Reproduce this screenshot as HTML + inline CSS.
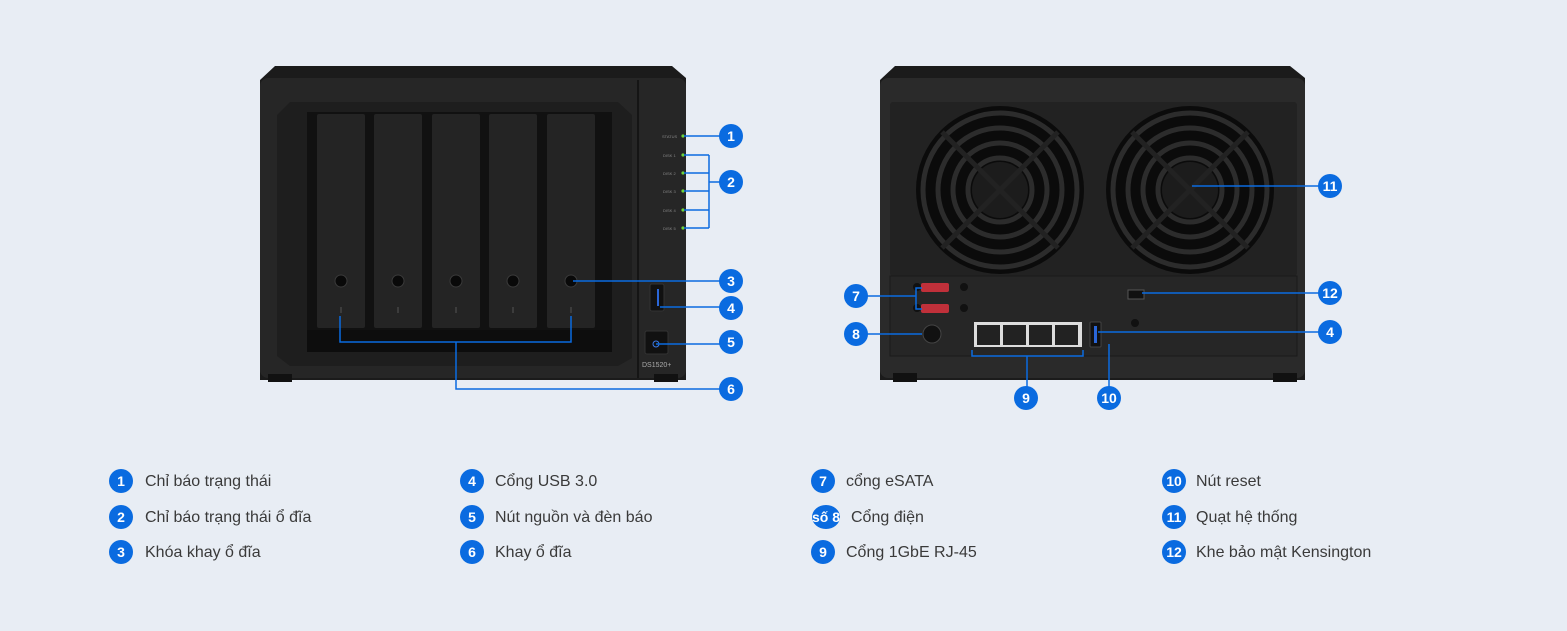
<!DOCTYPE html>
<html><head><meta charset="utf-8"><style>
html,body{margin:0;padding:0;background:#e8edf4;}
svg{display:block}
.lg{font-family:"Liberation Sans","DejaVu Sans",sans-serif;font-size:16px;fill:#3a3a3a}
.bn{font-family:"Liberation Sans",sans-serif;font-size:14px;fill:#fff;font-weight:bold}
.ln{stroke:#0a6be0;stroke-width:1.5;fill:none}
</style></head><body>
<svg width="1567" height="631" viewBox="0 0 1567 631" xmlns="http://www.w3.org/2000/svg">
<rect width="1567" height="631" fill="#e8edf4"/>
<!-- FRONT -->
<path d="M275 66 H672 L686 78 V380 H260 V80 Z" fill="#1b1b1b"/>
<rect x="260" y="78" width="426" height="300" rx="8" fill="#262626"/>
<rect x="268" y="374" width="24" height="8" fill="#111"/>
<rect x="654" y="374" width="24" height="8" fill="#111"/>
<line x1="638" y1="80" x2="638" y2="378" stroke="#151515" stroke-width="2"/>
<path d="M290 102 H618 L632 115 V358 L618 366 H290 L277 356 V115 Z" fill="#1e1e1e"/>
<rect x="307" y="112" width="305" height="240" fill="#111"/>
<rect x="307" y="330" width="305" height="22" fill="#0d0d0d"/>
<g fill="#242424">
<rect x="317" y="114" width="48" height="214" rx="2"/>
<rect x="374" y="114" width="48" height="214" rx="2"/>
<rect x="432" y="114" width="48" height="214" rx="2"/>
<rect x="489" y="114" width="48" height="214" rx="2"/>
<rect x="547" y="114" width="48" height="214" rx="2"/>
</g>
<g fill="#090909" stroke="#3a3a3a" stroke-width="1">
<circle cx="341" cy="281" r="6"/><circle cx="398" cy="281" r="6"/><circle cx="456" cy="281" r="6"/><circle cx="513" cy="281" r="6"/><circle cx="571" cy="281" r="6"/>
</g>
<g stroke="#555" stroke-width="1">
<line x1="341" y1="307" x2="341" y2="313"/><line x1="398" y1="307" x2="398" y2="313"/><line x1="456" y1="307" x2="456" y2="313"/><line x1="513" y1="307" x2="513" y2="313"/><line x1="571" y1="307" x2="571" y2="313"/>
</g>
<g font-family="Liberation Sans,sans-serif" font-size="4" fill="#888">
<text x="662" y="138">STATUS</text><text x="663" y="157">DISK 1</text><text x="663" y="175">DISK 2</text><text x="663" y="193">DISK 3</text><text x="663" y="212">DISK 4</text><text x="663" y="230">DISK 5</text>
<text x="642" y="367" font-size="7" fill="#aaa">DS1520+</text>
</g>
<g fill="#6fd43a">
<circle cx="683" cy="136" r="1.6"/><circle cx="683" cy="155" r="1.6"/><circle cx="683" cy="173" r="1.6"/><circle cx="683" cy="191" r="1.6"/><circle cx="683" cy="210" r="1.6"/><circle cx="683" cy="228" r="1.6"/>
</g>
<rect x="650" y="284" width="14" height="27" rx="2" fill="#111" stroke="#333"/>
<rect x="657" y="289" width="2" height="17" fill="#2a66d8"/>
<rect x="645" y="331" width="23" height="23" rx="2" fill="#111" stroke="#333"/>
<circle cx="656" cy="344" r="3" fill="none" stroke="#3b7be8" stroke-width="1"/>
<!-- front lines -->
<path class="ln" d="M684 136 H720"/>
<path class="ln" d="M684 155 H709 M684 173 H709 M684 191 H709 M684 210 H709 M684 228 H709 M709 155 V228 M709 182 H720"/>
<path class="ln" d="M573 281 H720"/>
<path class="ln" d="M660 307 H720"/>
<path class="ln" d="M656 344 H720"/>
<path class="ln" d="M340 316 V342 H571 V316 M456 342 V389 H720"/>
<!-- BACK -->
<path d="M895 66 H1290 L1305 78 V380 H880 V80 Z" fill="#1b1b1b"/>
<rect x="880" y="78" width="425" height="300" rx="8" fill="#2a2a2a"/>
<rect x="893" y="373" width="24" height="9" fill="#111"/>
<rect x="1273" y="373" width="24" height="9" fill="#111"/>
<rect x="890" y="102" width="407" height="174" rx="3" fill="#222"/>
<rect x="890" y="276" width="407" height="80" fill="#262626" stroke="#1a1a1a"/>
<g>
<circle cx="1000" cy="190" r="84" fill="#0b0b0b"/>
<g fill="none" stroke="#2c2c2c" stroke-width="5"><circle cx="1000" cy="190" r="32"/><circle cx="1000" cy="190" r="47"/><circle cx="1000" cy="190" r="62"/><circle cx="1000" cy="190" r="77"/></g>
<circle cx="1000" cy="190" r="28" fill="#1c1c1c"/>
<g stroke="#222" stroke-width="5"><line x1="942" y1="132" x2="1058" y2="248"/><line x1="1058" y1="132" x2="942" y2="248"/></g>
<circle cx="1190" cy="190" r="84" fill="#0b0b0b"/>
<g fill="none" stroke="#2c2c2c" stroke-width="5"><circle cx="1190" cy="190" r="32"/><circle cx="1190" cy="190" r="47"/><circle cx="1190" cy="190" r="62"/><circle cx="1190" cy="190" r="77"/></g>
<circle cx="1190" cy="190" r="28" fill="#1c1c1c"/>
<g stroke="#222" stroke-width="5"><line x1="1132" y1="132" x2="1248" y2="248"/><line x1="1248" y1="132" x2="1132" y2="248"/></g>
</g>
<g fill="#111"><circle cx="917" cy="287" r="4"/><circle cx="917" cy="308" r="4"/><circle cx="964" cy="287" r="4"/><circle cx="964" cy="308" r="4"/><circle cx="1135" cy="323" r="4"/></g>
<rect x="921" y="283" width="28" height="9" rx="2" fill="#c0303a"/>
<rect x="921" y="304" width="28" height="9" rx="2" fill="#c0303a"/>
<circle cx="932" cy="334" r="9" fill="#111" stroke="#444"/>
<rect x="974" y="322" width="108" height="25" fill="#ddd"/>
<g fill="#222"><rect x="977" y="325" width="23" height="20"/><rect x="1003" y="325" width="23" height="20"/><rect x="1029" y="325" width="23" height="20"/><rect x="1055" y="325" width="23" height="20"/></g>
<rect x="1090" y="322" width="11" height="25" rx="1" fill="#111" stroke="#444"/>
<rect x="1094" y="326" width="3" height="17" fill="#2a66d8"/>
<rect x="1128" y="290" width="16" height="9" fill="#111" stroke="#555"/>
<!-- back lines -->
<path class="ln" d="M1192 186 H1320"/>
<path class="ln" d="M1142 293 H1320"/>
<path class="ln" d="M1098 332 H1320"/>
<path class="ln" d="M922 288 H916 V309 H922 M865 296 H916"/>
<path class="ln" d="M865 334 H922"/>
<path class="ln" d="M972 350 V356 H1083 V350 M1027 356 V388"/>
<path class="ln" d="M1109 344 V388"/>
<!-- badges -->
<g fill="#0a6be0">
<circle cx="731" cy="136" r="12"/><circle cx="731" cy="182" r="12"/><circle cx="731" cy="281" r="12"/><circle cx="731" cy="308" r="12"/><circle cx="731" cy="342" r="12"/><circle cx="731" cy="389" r="12"/>
<circle cx="1330" cy="186" r="12"/><circle cx="1330" cy="293" r="12"/><circle cx="1330" cy="332" r="12"/>
<circle cx="856" cy="296" r="12"/><circle cx="856" cy="334" r="12"/><circle cx="1026" cy="398" r="12"/><circle cx="1109" cy="398" r="12"/>
</g>
<g class="bn" text-anchor="middle" font-size="15">
<text x="731" y="141">1</text><text x="731" y="187">2</text><text x="731" y="286">3</text><text x="731" y="313">4</text><text x="731" y="347">5</text><text x="731" y="394">6</text>
<text x="1330" y="191">11</text><text x="1330" y="298">12</text><text x="1330" y="337">4</text>
<text x="856" y="301">7</text><text x="856" y="339">8</text><text x="1026" y="403">9</text><text x="1109" y="403">10</text>
</g>
<!-- legend -->
<g fill="#0a6be0">
<circle cx="121" cy="481" r="12"/><circle cx="121" cy="517" r="12"/><circle cx="121" cy="552" r="12"/>
<circle cx="472" cy="481" r="12"/><circle cx="472" cy="517" r="12"/><circle cx="472" cy="552" r="12"/>
<circle cx="823" cy="481" r="12"/><ellipse cx="826" cy="517" rx="14" ry="12"/><circle cx="823" cy="552" r="12"/>
<circle cx="1174" cy="481" r="12"/><circle cx="1174" cy="517" r="12"/><circle cx="1174" cy="552" r="12"/>
</g>
<g class="bn" text-anchor="middle" font-weight="normal" font-size="15">
<text x="121" y="486">1</text><text x="121" y="522">2</text><text x="121" y="557">3</text>
<text x="472" y="486">4</text><text x="472" y="522">5</text><text x="472" y="557">6</text>
<text x="823" y="486">7</text><text x="826" y="522">số 8</text><text x="823" y="557">9</text>
<text x="1174" y="486">10</text><text x="1174" y="522">11</text><text x="1174" y="557">12</text>
</g>
<g class="lg">
<text x="145" y="486">Chỉ báo trạng thái</text><text x="145" y="522">Chỉ báo trạng thái ổ đĩa</text><text x="145" y="557">Khóa khay ổ đĩa</text>
<text x="495" y="486">Cổng USB 3.0</text><text x="495" y="522">Nút nguồn và đèn báo</text><text x="495" y="557">Khay ổ đĩa</text>
<text x="846" y="486">cổng eSATA</text><text x="851" y="522">Cổng điện</text><text x="846" y="557">Cổng 1GbE RJ-45</text>
<text x="1196" y="486">Nút reset</text><text x="1196" y="522">Quạt hệ thống</text><text x="1196" y="557">Khe bảo mật Kensington</text>
</g>
</svg>
</body></html>
